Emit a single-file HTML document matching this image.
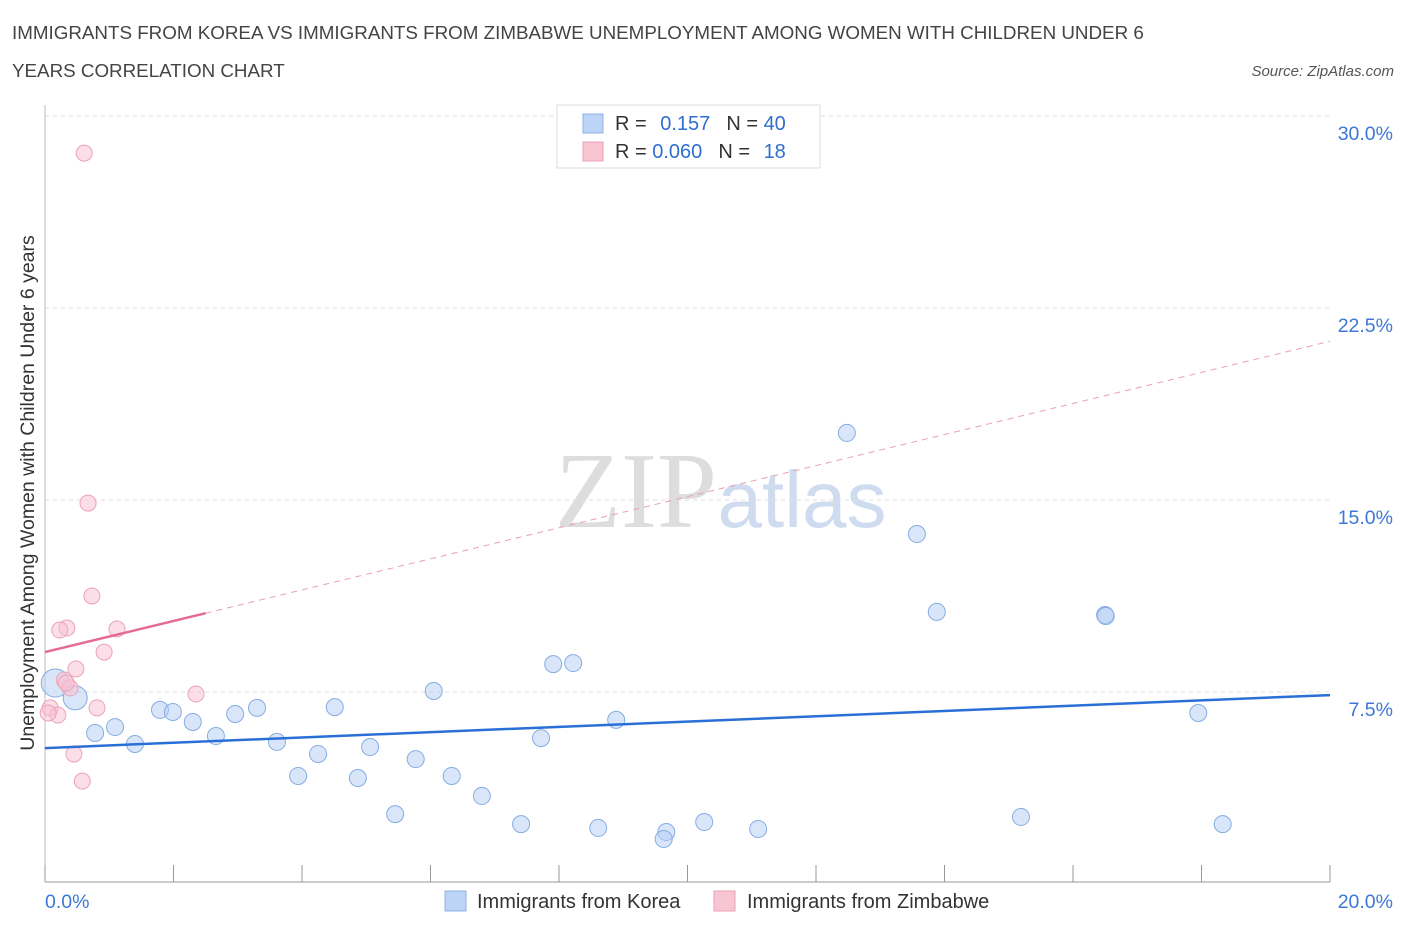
<!DOCTYPE html>
<html><head><meta charset="utf-8"><style>
body{margin:0;background:#fff;font-family:"Liberation Sans",sans-serif;}
</style></head><body>
<svg width="1406" height="930" xmlns="http://www.w3.org/2000/svg" id="chart">
<text x="12" y="39" font-size="18.8" fill="#444">IMMIGRANTS FROM KOREA VS IMMIGRANTS FROM ZIMBABWE UNEMPLOYMENT AMONG WOMEN WITH CHILDREN UNDER 6</text>
<text x="12" y="77" font-size="18.8" fill="#444">YEARS CORRELATION CHART</text>
<text x="1394" y="76" font-size="15" fill="#555" font-style="italic" text-anchor="end">Source: ZipAtlas.com</text>
<text x="636" y="527" font-size="108" fill="#ddd" font-family="Liberation Serif,serif" text-anchor="middle">ZIP</text>
<text x="802" y="527" font-size="80" fill="#cfdcf0" text-anchor="middle">atlas</text>
<g id="grid"></g>
<g id="axes"></g>
<g id="marks"></g>
<text transform="translate(34,493) rotate(-90)" font-size="19.5" fill="#333" text-anchor="middle">Unemployment Among Women with Children Under 6 years</text>
<g>
<rect x="557" y="105" width="263" height="63" fill="#fff" stroke="#ddd"/>
<rect x="583" y="114" width="20" height="19" fill="#bcd4f5" stroke="#8fb2e6"/>
<rect x="583" y="142" width="20" height="19" fill="#f8c6d3" stroke="#eba0b5"/>
<text x="615" y="130" font-size="20" fill="#333">R = <tspan fill="#2f6fd0" dx="8">0.157</tspan><tspan dx="16" fill="#333">N = </tspan><tspan fill="#2f6fd0">40</tspan></text>
<text x="615" y="158" font-size="20" fill="#333">R = <tspan fill="#2f6fd0">0.060</tspan><tspan dx="16" fill="#333">N = </tspan><tspan fill="#2f6fd0" dx="8">18</tspan></text>
</g>
<g>
<rect x="445" y="891" width="21" height="20" fill="#bcd4f5" stroke="#8fb2e6"/>
<text x="477" y="908" font-size="20" fill="#333">Immigrants from Korea</text>
<rect x="714" y="891" width="21" height="20" fill="#f8c6d3" stroke="#eba0b5"/>
<text x="747" y="908" font-size="20" fill="#333">Immigrants from Zimbabwe</text>
</g>
</svg>
<script>
const koreaX=[0.16,0.47,0.78,1.09,1.40,1.79,1.99,2.30,2.66,2.96,3.30,3.61,3.94,4.25,4.51,4.87,5.06,5.45,5.77,6.05,6.33,6.80,7.41,7.72,7.91,8.22,8.61,8.89,9.67,9.63,10.26,11.10,12.48,13.57,13.88,16.50,16.51,15.19,17.95,18.33];
const koreaY=[7.85,7.27,5.90,6.13,5.47,6.80,6.72,6.33,5.78,6.64,6.88,5.55,4.22,5.08,6.91,4.14,5.35,2.73,4.88,7.54,4.22,3.44,2.34,5.70,8.59,8.63,2.19,6.41,2.03,1.76,2.42,2.15,17.62,13.67,10.63,10.51,10.47,2.62,6.68,2.34];
const zimX=[0.61,0.67,0.73,0.34,0.23,1.12,0.48,0.92,0.30,0.39,2.35,0.81,0.08,0.20,0.05,0.45,0.58,0.33];
const zimY=[28.55,14.88,11.25,10.0,9.92,9.96,8.40,9.06,7.97,7.66,7.42,6.88,6.88,6.60,6.68,5.08,4.02,7.85];
const koreaTrend=[5.31,7.38];
const zimTrend=[9.06,21.2];
const zimSolidEnd=2.5;
const yTicks=[7.5,15.0,22.5,30.0];
const xTicks=[0,2,4,6,8,10,12,14,16,18,20];
const NS='http://www.w3.org/2000/svg';
const X=v=>45+v/20*1285, Y=v=>884-v*25.6;
function mk(tag,attrs,parent){const e=document.createElementNS(NS,tag);for(const k in attrs)e.setAttribute(k,attrs[k]);parent.appendChild(e);return e;}
const grid=document.getElementById('grid'),axes=document.getElementById('axes'),marks=document.getElementById('marks');
yTicks.forEach(t=>{
 const l=mk('line',{x1:45,x2:1330,y1:Y(t),y2:Y(t),stroke:'#ddd','stroke-dasharray':'4,4'},grid);
 
 
 const tx=mk('text',{x:1393,y:Y(t)+24,'font-size':19.5,fill:'#3b78d8','text-anchor':'end'},axes);
 tx.textContent=t.toFixed(1)+'%';
 
 
});
const ax=mk('line',{x1:45,x2:1330,y1:882,y2:882,stroke:'#999'},axes);


const ay=mk('line',{x1:45,x2:45,y1:105,y2:882,stroke:'#bbb'},axes);


xTicks.forEach(t=>{
 const l=mk('line',{x1:X(t),x2:X(t),y1:865,y2:882,stroke:'#999'},axes);
 
 
});
[[0,'start',45],[20,'end',1393]].forEach(([v,a,x])=>{
 const tx=mk('text',{x:x,y:908,'font-size':19.5,fill:'#3b78d8','text-anchor':a},axes);
 tx.textContent=v.toFixed(1)+'%';
 
 
});
koreaX.forEach((x,i)=>{
 const r=i==0?14:(i==1?12:8.5);
 const c=mk('circle',{cx:X(x),cy:Y(koreaY[i]),r:r,fill:'rgba(180,206,245,0.5)',stroke:'#86ace4','stroke-width':1},marks);
 
 
});
zimX.forEach((x,i)=>{
 const c=mk('circle',{cx:X(x),cy:Y(zimY[i]),r:8,fill:'rgba(248,195,212,0.55)',stroke:'#eba3b8','stroke-width':1},marks);
 
 
});
const zs=v=>zimTrend[0]+(zimTrend[1]-zimTrend[0])*v/20;
const zd=mk('line',{x1:X(zimSolidEnd),y1:Y(zs(zimSolidEnd)),x2:X(20),y2:Y(zimTrend[1]),stroke:'#e8a0b5','stroke-dasharray':'6,5','stroke-width':1},marks);


const zl=mk('line',{x1:X(0),y1:Y(zimTrend[0]),x2:X(zimSolidEnd),y2:Y(zs(zimSolidEnd)),stroke:'#e56b94','stroke-width':2.5},marks);


const kl=mk('line',{x1:X(0),y1:Y(koreaTrend[0]),x2:X(20),y2:Y(koreaTrend[1]),stroke:'#2a6fd6','stroke-width':2.5},marks);


</script>
</body></html>
